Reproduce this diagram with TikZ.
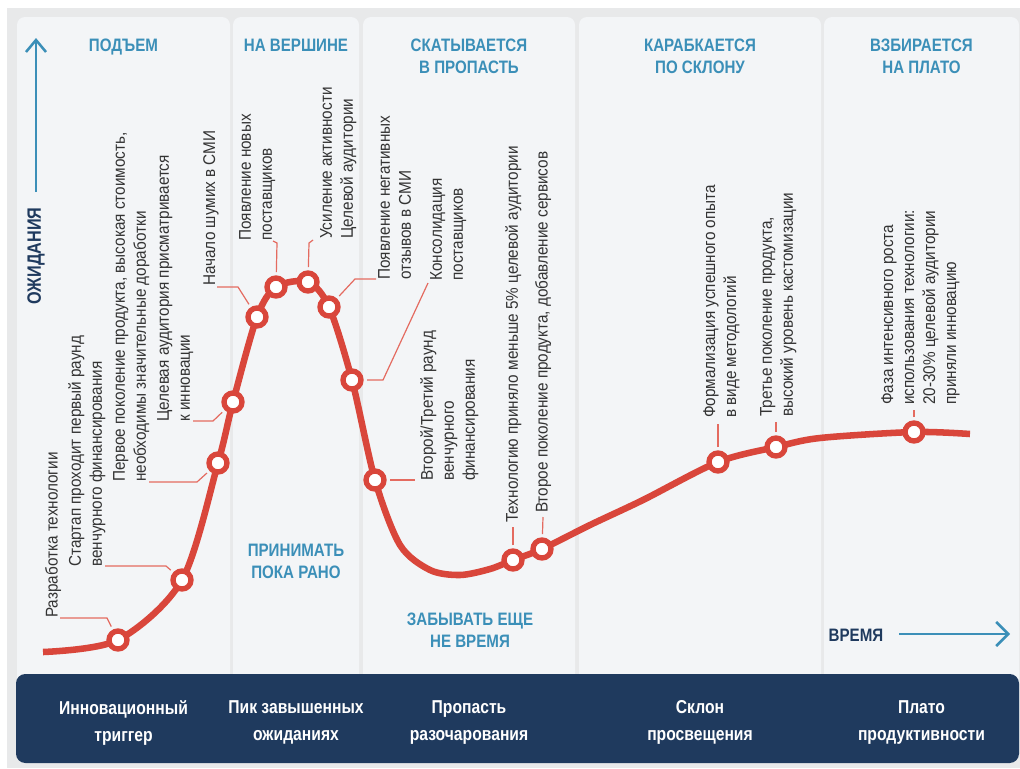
\documentclass[tikz,border=0pt]{standalone}
\usepackage{fontspec}
\setmainfont{Liberation Sans}
\newfontfamily\condfont[FakeStretch=0.84]{Liberation Sans}
\newfontfamily\lblfont[FakeStretch=0.9]{Liberation Sans}
\usetikzlibrary{arrows.meta}
\definecolor{bggrey}{HTML}{E8E9EA}
\definecolor{panel}{HTML}{F3F5F7}
\definecolor{navy}{HTML}{1F3A5E}
\definecolor{hblue}{HTML}{3B8FB8}
\definecolor{cred}{HTML}{D9463B}
\definecolor{lred}{HTML}{E46B60}
\definecolor{lblgrey}{HTML}{333333}
\tikzset{
 hdr/.style={font=\condfont\bfseries\fontsize{13.5}{16.5}\selectfont, text=hblue, align=center, inner sep=0, anchor=north},
 bandtxt/.style={font=\condfont\bfseries\fontsize{14}{20.25}\selectfont, text=white, align=center, inner sep=0, anchor=north},
 axlbl/.style={font=\condfont\bfseries\fontsize{13.5}{16.5}\selectfont, text=navy, inner sep=0},
 lbl/.style={font=\lblfont\fontsize{12.75}{15.75}\selectfont, text=lblgrey, rotate=90, anchor=north west, align=left, inner sep=0},
 marker/.style={circle, draw=cred, line width=4pt, fill=white, minimum size=13.5pt, inner sep=0},
 leader/.style={draw=lred, line width=0.9pt},
 curve/.style={draw=cred, line width=4.9pt},
 axis/.style={draw=hblue, line width=1.9pt},
 panelbox/.style={fill=panel, rounded corners=6pt},
}
\begin{document}
\begin{tikzpicture}[x=0.75pt,y=-0.75pt]
\useasboundingbox (0,0) rectangle (1020,768);
\fill[white] (0,0) rectangle (1020,768);
\fill[bggrey] (7,8) rectangle (1020,768);
% panels
\fill[panelbox] (17,17) rectangle (230,700);
\fill[panelbox] (233,17) rectangle (359,700);
\fill[panelbox] (363,17) rectangle (575,700);
\fill[panelbox] (579,17) rectangle (821,700);
\fill[panelbox] (824,17) rectangle (1019,700);
% bottom band
\fill[navy, rounded corners=7pt] (16,674) rectangle (1019,763);
% headers
\node[hdr] (h1) at (123.5,38.5) {ПОДЪЕМ};
\node[hdr] (h2) at (296,38.5) {НА ВЕРШИНЕ};
\node[hdr] (h3) at (469,38.5) {СКАТЫВАЕТСЯ\\В ПРОПАСТЬ};
\node[hdr] (h4) at (700,38.5) {КАРАБКАЕТСЯ\\ПО СКЛОНУ};
\node[hdr] (h5) at (921.5,38.5) {ВЗБИРАЕТСЯ\\НА ПЛАТО};
\node[hdr] (mid1) at (296,543.5) {ПРИНИМАТЬ\\ПОКА РАНО};
\node[hdr] (mid2) at (470,612.5) {ЗАБЫВАТЬ ЕЩЕ\\НЕ ВРЕМЯ};
% band texts
\node[bandtxt] (b1) at (123.5,700) {Инновационный\\триггер};
\node[bandtxt] (b2) at (296,700) {Пик завышенных\\ожиданиях};
\node[bandtxt] (b3) at (469,700) {Пропасть\\разочарования};
\node[bandtxt] (b4) at (700,700) {Склон\\просвещения};
\node[bandtxt] (b5) at (921.5,700) {Плато\\продуктивности};
% axes
\coordinate (ybot) at (36,192);
\coordinate (ytop) at (36,38);
\draw[axis, -{Straight Barb[length=9pt,width=15pt]}] (ybot) -- (ytop);
\node[axlbl, rotate=90, font=\condfont\bfseries\fontsize{14.5}{16.5}\selectfont] (ylab) at (36,256) {ОЖИДАНИЯ};
\node[axlbl] (xlab) at (856,635) {ВРЕМЯ};
\coordinate (xl) at (899,634);
\coordinate (xr) at (1010,634);
\draw[axis, -{Straight Barb[length=9pt,width=18pt]}] (xl) -- (xr);
% curve
\draw[curve] plot[smooth, tension=0.5] coordinates {
 (43,652) (118,640) (182,580) (218,463) (233,402) (257,317) (276,287) (308,282)
 (329,307) (352,380) (375,480) (400,545) (430,570) (460,575) (490,569) (513,560)
 (542,549) (590,525) (643,500) (718,462) (776,447) (820,438) (914,432) (970,434)};
% labels
\node[lbl] (t1) at (45,618) {Разработка технологии};
\node[lbl] (t2) at (68,567) {Стартап проходит первый раунд\\венчурного финансирования};
\node[lbl] (t3) at (113,482) {Первое поколение продукта, высокая стоимость,\\необходимы значительные доработки};
\node[lbl] (t4) at (157,422) {Целевая аудитория присматривается\\к инновации};
\node[lbl] (t5) at (203,286) {Начало шумих в СМИ};
\node[lbl] (t6) at (239,241) {Появление новых\\поставщиков};
\node[lbl] (t7) at (320,239) {Усиление активности\\Целевой аудитории};
\node[lbl] (t8) at (378,280) {Появление негативных\\отзывов в СМИ};
\node[lbl] (t9) at (430,281) {Консолидация\\поставщиков};
\node[lbl] (t10) at (420,481) {Второй/Третий раунд\\венчурного\\финансирования};
\node[lbl] (t11) at (505,523) {Технологию приняло меньше 5\% целевой аудитории};
\node[lbl] (t12) at (535,513) {Второе поколение продукта, добавление сервисов};
\node[lbl] (t13) at (703,418) {Формализация успешного опыта\\в виде методологий};
\node[lbl] (t14) at (760,417) {Третье поколение продукта,\\высокий уровень кастомизации};
\node[lbl] (t15) at (881,405) {Фаза интенсивного роста\\использования технологии:\\20-30\% целевой аудитории\\приняли инновацию};
% leader coordinates
\coordinate (a1) at (107,618); \coordinate (e1) at (60,618);
\coordinate (a2) at (166,566); \coordinate (e2) at (105,566);
\coordinate (a3) at (197,482); \coordinate (e3) at (149,482);
\coordinate (a4) at (213,421); \coordinate (e4) at (193,421);
\coordinate (a5) at (238,287); \coordinate (e5) at (217,287);
\coordinate (a6) at (277,243); \coordinate (e6) at (273,241);
\coordinate (a7) at (309,243); \coordinate (e7) at (313,240);
\coordinate (a8) at (355,279); \coordinate (e8) at (376,279);
\coordinate (a9) at (383,380); \coordinate (e9) at (428,283);
\coordinate (e10) at (415,480);
\coordinate (e11) at (513,527);
\coordinate (e12) at (543,517);
\coordinate (e13) at (718,424);
\coordinate (e14) at (776,422);
\coordinate (e15) at (914,410);
% markers
\node[marker] (m1) at (118,640) {};
\node[marker] (m2) at (182,580) {};
\node[marker] (m3) at (218,463) {};
\node[marker] (m4) at (233,402) {};
\node[marker] (m5) at (257,317) {};
\node[marker] (m6) at (276,287) {};
\node[marker] (m7) at (308,282) {};
\node[marker] (m8) at (329,307) {};
\node[marker] (m9) at (352,380) {};
\node[marker] (m10) at (375,480) {};
\node[marker] (m11) at (513,560) {};
\node[marker] (m12) at (542,549) {};
\node[marker] (m13) at (718,462) {};
\node[marker] (m14) at (776,447) {};
\node[marker] (m15) at (914,432) {};
% leaders
\begin{scope}[leader, shorten <=2.5pt]
\draw (m1) -- (a1) -- (e1);
\draw (m2) -- (a2) -- (e2);
\draw (m3) -- (a3) -- (e3);
\draw (m4) -- (a4) -- (e4);
\draw (m5) -- (a5) -- (e5);
\draw (m6) -- (a6) -- (e6);
\draw (m7) -- (a7) -- (e7);
\draw (m8) -- (a8) -- (e8);
\draw (m9) -- (a9) -- (e9);
\draw (m10) -- (e10);
\draw (m11) -- (e11);
\draw (m12) -- (e12);
\draw (m13) -- (e13);
\draw (m14) -- (e14);
\draw (m15) -- (e15);
\end{scope}
\end{tikzpicture}
\end{document}
